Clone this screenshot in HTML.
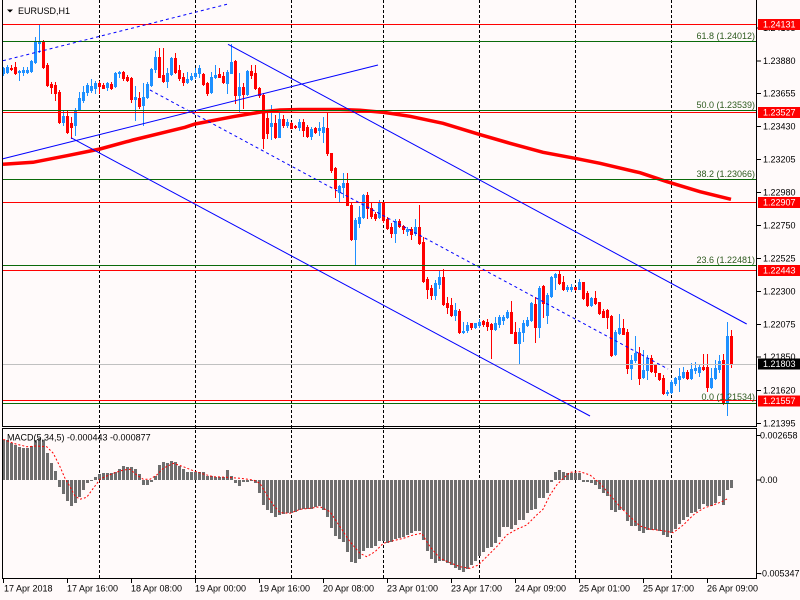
<!DOCTYPE html>
<html><head><meta charset="utf-8">
<style>
html,body{margin:0;padding:0;background:#fffafa;}
svg{display:block;font-family:"Liberation Sans",sans-serif;}
text{font-size:9px;}
</style></head>
<body>
<svg id="s" width="800" height="600" viewBox="0 0 800 600" xmlns="http://www.w3.org/2000/svg">
<rect x="0" y="0" width="800" height="600" fill="#fffafa"/>
<!-- grid vertical dashed -->
<g stroke="#000" stroke-width="1" stroke-dasharray="3,2" shape-rendering="crispEdges">
<line x1="99.5" y1="0" x2="99.5" y2="578"/>
<line x1="195.5" y1="0" x2="195.5" y2="578"/>
<line x1="291.5" y1="0" x2="291.5" y2="578"/>
<line x1="383.5" y1="0" x2="383.5" y2="578"/>
<line x1="479.5" y1="0" x2="479.5" y2="578"/>
<line x1="575.5" y1="0" x2="575.5" y2="578"/>
<line x1="671.5" y1="0" x2="671.5" y2="578"/>
</g>
<g id="candles" shape-rendering="crispEdges"></g>
<g id="hist" shape-rendering="crispEdges"></g>
<polyline fill="none" stroke="#ff0000" stroke-width="1" stroke-dasharray="2,2" points="3.3,439.3 13.3,443.3 26.7,446.7 36.7,446 46.7,446.7 53.3,453.3 60,466.7 65,478.3 70,486.7 75,496 80,499.3 86.7,497.3 93.3,488.3 100,479.3 106.7,476 115,472.7 123.3,470 130,469.3 136.7,475 143.3,479.3 150,479.3 156.7,475 163.3,468.3 173.3,463.3 183.3,466.7 193.3,470.7 203.3,474 213.3,476.7 226.7,477.3 240,478.3 253.3,480 260,483.3 266.7,495 273.3,505 280,512.7 290,513.3 300,509.3 310,508.3 320,506.7 330,511.7 340,526.7 350,541.7 360,553.3 366.7,556.7 375,551.7 383.3,543.3 393.3,540.7 403.3,538.3 413.3,535 421.7,533.3 430,546.7 440,558.3 450,562.7 460,566.7 470,568.3 478.3,565 486.7,556.7 496.7,546.7 506.7,535 516.7,529.3 526.7,525 536.7,515 543,509.3 550,495 556.7,485 563.3,478.3 570,472.3 580,471.7 590,475 600,483.3 610,495 620,506.7 630,516.7 640,526 650,529.3 663.3,530.7 673.3,532.7 683.3,525 693.3,515 703.3,508.3 713.3,505 721.7,501.7 728.3,498.3"/>
<!-- moving average -->
<polyline fill="none" stroke="#ff0000" stroke-width="3.5" points="3,164.3 33,162.3 67,155.7 100,149 133,140 167,131.7 185,127.3 195,124 233,116.7 263,111.7 280,110 300,109.5 340,109.5 360,110.3 383,112.3 410,116.3 443,123.3 479,134.3 510,143.3 543,152.3 575,158.3 600,163.3 610,165.7 640,172.7 667,181.7 700,191.7 731,199.3"/>
<!-- horizontal levels -->
<g stroke-width="1" shape-rendering="crispEdges">
<line x1="2" y1="24.5" x2="756" y2="24.5" stroke="#ff0000"/>
<line x1="2" y1="41.5" x2="756" y2="41.5" stroke="#0a6a0a"/>
<line x1="2" y1="110.5" x2="756" y2="110.5" stroke="#0a6a0a"/>
<line x1="2" y1="112.5" x2="756" y2="112.5" stroke="#ff0000"/>
<line x1="2" y1="179.5" x2="756" y2="179.5" stroke="#0a6a0a"/>
<line x1="2" y1="202.5" x2="756" y2="202.5" stroke="#ff0000"/>
<line x1="2" y1="265.5" x2="756" y2="265.5" stroke="#0a6a0a"/>
<line x1="2" y1="270.5" x2="756" y2="270.5" stroke="#ff0000"/>
<line x1="2" y1="364.5" x2="756" y2="364.5" stroke="#c0c0c0"/>
<line x1="2" y1="400.5" x2="756" y2="400.5" stroke="#ff0000"/>
<line x1="2" y1="403.5" x2="756" y2="403.5" stroke="#0a6a0a"/>
</g>
<!-- trend lines -->
<g stroke="#0000ff" stroke-width="1" fill="none">
<line x1="2" y1="159" x2="378" y2="65"/>
<line x1="71" y1="137.7" x2="590" y2="416"/>
<line x1="228" y1="44.3" x2="746.7" y2="324"/>
<line x1="150" y1="90" x2="668" y2="369" stroke-dasharray="3,3"/>
<line x1="3" y1="60.7" x2="228" y2="4" stroke-dasharray="3,3"/>
</g>
<!-- fib labels -->
<g fill="#2d5a1e" text-anchor="end">
<text x="755" y="39">61.8 (1.24012)</text>
<text x="755" y="108">50.0 (1.23539)</text>
<text x="755" y="177">38.2 (1.23066)</text>
<text x="755" y="263">23.6 (1.22481)</text>
<text x="755" y="400">0.0 (1.21534)</text>
</g>
<!-- borders -->
<g stroke="#000" stroke-width="1" fill="none" shape-rendering="crispEdges">
<line x1="2.5" y1="0" x2="2.5" y2="427"/>
<line x1="756.5" y1="0" x2="756.5" y2="427"/>
<line x1="2" y1="426.5" x2="757" y2="426.5"/>
<rect x="2.5" y="428.5" width="754" height="150"/>
</g>
<!-- right price axis ticks -->
<g stroke="#000" stroke-width="1" shape-rendering="crispEdges">
<line x1="757" y1="28" x2="761" y2="28"/>
<line x1="757" y1="61" x2="761" y2="61"/>
<line x1="757" y1="93.5" x2="761" y2="93.5"/>
<line x1="757" y1="126.5" x2="761" y2="126.5"/>
<line x1="757" y1="159.5" x2="761" y2="159.5"/>
<line x1="757" y1="192.5" x2="761" y2="192.5"/>
<line x1="757" y1="225.5" x2="761" y2="225.5"/>
<line x1="757" y1="258.5" x2="761" y2="258.5"/>
<line x1="757" y1="291.5" x2="761" y2="291.5"/>
<line x1="757" y1="324.5" x2="761" y2="324.5"/>
<line x1="757" y1="357" x2="761" y2="357"/>
<line x1="757" y1="390.5" x2="761" y2="390.5"/>
<line x1="757" y1="423.5" x2="761" y2="423.5"/>
<line x1="757" y1="435.5" x2="761" y2="435.5"/>
<line x1="757" y1="480" x2="761" y2="480"/>
<line x1="757" y1="573.5" x2="761" y2="573.5"/>
</g>
<g fill="#000">
<text x="763" y="31">1.24105</text>
<text x="763" y="64.2">1.23880</text>
<text x="763" y="96.7">1.23655</text>
<text x="763" y="129.7">1.23430</text>
<text x="763" y="162.7">1.23205</text>
<text x="763" y="195.7">1.22980</text>
<text x="763" y="228.7">1.22750</text>
<text x="763" y="261.7">1.22525</text>
<text x="763" y="294.7">1.22300</text>
<text x="763" y="327.7">1.22075</text>
<text x="763" y="360.2">1.21850</text>
<text x="763" y="393.7">1.21620</text>
<text x="763" y="426.7">1.21395</text>
<text x="760" y="438.7">0.002658</text>
<text x="760" y="483.2">0.00</text>
<text x="759" y="576.7">-0.005347</text>
</g>
<!-- price boxes -->
<g>
<rect x="758" y="19" width="42" height="11" fill="#ff0000"/>
<text x="763" y="27.7" fill="#fff">1.24131</text>
<rect x="758" y="107" width="42" height="11" fill="#ff0000"/>
<text x="763" y="115.7" fill="#fff">1.23527</text>
<rect x="758" y="197" width="42" height="11" fill="#ff0000"/>
<text x="763" y="205.7" fill="#fff">1.22907</text>
<rect x="758" y="265" width="42" height="11" fill="#ff0000"/>
<text x="763" y="273.7" fill="#fff">1.22443</text>
<rect x="758" y="358.5" width="42" height="11" fill="#000"/>
<text x="763" y="367.2" fill="#fff">1.21803</text>
<rect x="758" y="395.5" width="42" height="11" fill="#ff0000"/>
<text x="763" y="404.2" fill="#fff">1.21557</text>
</g>
<!-- time axis -->
<g stroke="#000" stroke-width="1" shape-rendering="crispEdges">
<line x1="3.5" y1="579" x2="3.5" y2="583"/>
<line x1="67.5" y1="579" x2="67.5" y2="583"/>
<line x1="131.5" y1="579" x2="131.5" y2="583"/>
<line x1="195.5" y1="579" x2="195.5" y2="583"/>
<line x1="259.5" y1="579" x2="259.5" y2="583"/>
<line x1="323.5" y1="579" x2="323.5" y2="583"/>
<line x1="387.5" y1="579" x2="387.5" y2="583"/>
<line x1="451.5" y1="579" x2="451.5" y2="583"/>
<line x1="515.5" y1="579" x2="515.5" y2="583"/>
<line x1="579.5" y1="579" x2="579.5" y2="583"/>
<line x1="643.5" y1="579" x2="643.5" y2="583"/>
<line x1="707.5" y1="579" x2="707.5" y2="583"/>
</g>
<g fill="#000">
<text x="4" y="591.5">17 Apr 2018</text>
<text x="67" y="591.5">17 Apr 16:00</text>
<text x="131" y="591.5">18 Apr 08:00</text>
<text x="195" y="591.5">19 Apr 00:00</text>
<text x="259" y="591.5">19 Apr 16:00</text>
<text x="323" y="591.5">20 Apr 08:00</text>
<text x="387" y="591.5">23 Apr 01:00</text>
<text x="451" y="591.5">23 Apr 17:00</text>
<text x="515" y="591.5">24 Apr 09:00</text>
<text x="579" y="591.5">25 Apr 01:00</text>
<text x="643" y="591.5">25 Apr 17:00</text>
<text x="707" y="591.5">26 Apr 09:00</text>
</g>
<!-- titles -->
<polygon points="7,9.5 13,9.5 10,12.5" fill="#000"/>
<text x="18" y="14" fill="#000">EURUSD,H1</text>
<text x="7" y="440.5" fill="#000">MACD(5,34,5) -0.000443 -0.000877</text>
</svg>
<script>
(function(){
var NS="http://www.w3.org/2000/svg";
var D=[[73.3,66.7,75,68.3],[71.7,65,73.3,67.3],[67.7,65,70,69.3],[67.3,61.7,74,73.3],[72,70,80,71],[71.7,67.3,75,70],[71.7,67.3,72.7,70],[71,60,71.7,61],[61.7,36.7,63.3,41.7],[42.7,24,51.7,41],
[40.7,40,68.3,67.3],[65,63.3,86,85],[84,81.7,93.3,86.7],[85,81.7,100,93.3],[91.7,90,123.3,121.7],[121.7,110,125,116],[116,110,133.3,131.7],[123.3,117.3,138.3,126.7],[125,108.3,135,110],[110,91.7,110,98.3],
[100,86,101.7,91.7],[91.7,82.7,95,85],[90,79.3,91.7,86],[88.3,80.7,92.7,82.7],[82.7,80.7,92.7,86],[85,82.7,88.3,88.3],[87.3,81.7,90,83.3],[84,81.7,89.3,88.3],[86,71.7,87.3,73.3],[73.3,70.7,76.7,71.7],
[71.7,70.7,80,78.3],[76.7,75,80.7,80],[78.3,76.7,101.7,99.3],[99.3,86,120,96.7],[98,92,108,106],[105,83.3,125,97.3],[97.3,81.7,98.3,84],[85,68.3,86,69.3],[69.3,50.7,71.7,56.7],[56.7,48.3,76.7,76.7],
[75,48.3,81.7,80.7],[80.7,68.3,86.7,73.3],[74,56.7,75,57.7],[58.3,53.3,73.3,71.7],[70,65,80,78.3],[76.7,73.3,85,81.7],[81.7,71.7,83.3,79.3],[79.3,73.3,80,76],[76,68.3,78.3,73.3],[73.3,65,76.7,68.3],
[74.3,73.3,85,84.3],[82.7,81.7,95,92.7],[91.7,71.7,92.7,76.7],[77.3,65,78.3,75],[74.3,68.3,77.3,76.7],[76,71.7,82.7,81.7],[82.7,70,92.7,71.7],[72.7,44,73.3,61.7],[60.7,60,102.7,95],[95,73.3,110.7,86.7],
[87.3,83.3,108.3,94],[94,70,95,71],[71,65,78.3,75],[73.3,65,89.3,88.3],[88.3,86.7,96.7,95],[95,93.3,148.3,138.3],[118.3,111.7,138.3,133.3],[126,105,139.3,122.7],[122.7,115,138.3,136.7],[136.7,111.7,137.3,119.3],
[119.3,115,126.7,125],[125,119.3,127.3,121.7],[123.3,121.7,128.3,128.3],[126,125,128.3,127.3],[127.3,119.3,130,121.7],[121.7,119.3,136,130],[127.3,125,137.3,136],[136,127.3,139.3,129.3],[128.3,127.3,133.3,131.7],[130,121.7,135,128.3],
[131.7,117.3,141.7,127.3],[128.3,112.7,155,153.3],[153.3,152.7,171.7,170],[168.3,166.7,197.3,188.3],[191.7,185,200.7,186],[187.3,172.7,196.7,183.3],[183.3,172.7,205,205],[205,203.3,240,239.3],[239.3,218.3,264,220],[222.7,206,226.7,216.7],
[216.7,194,218.3,195],[195,191.7,218.3,208.3],[208.3,203.3,218.3,216],[214,211.7,220,218.3],[216.7,200,218.3,201.7],[203.3,201.7,221.7,220],[219.3,216.7,229.3,228.3],[227.3,223.3,236.7,233.3],[233.3,219.3,241.7,220.7],[220.7,219.3,227.3,226],
[226,225,233.3,229.3],[230.7,226.7,235,229.3],[229.3,226.7,239.3,234],[233.3,219.3,235,226.7],[226.7,205,244,243.3],[241.7,236.7,281.7,280.7],[279.3,277.3,298.3,289.3],[288.3,285,299.3,295],[295,280,299.3,282.7],[284.3,270,288.3,276.7],
[277.3,269.3,305,304],[303.3,296.7,312.7,306.7],[305,298.3,316,315],[315,303.3,320,310],[310.7,309.3,332.7,331.7],[331.7,321.7,332.7,330.7],[330,321.7,331.7,325],[323.3,322.7,329.3,326.7],[326.7,322.7,328.3,323.3],[325,319.3,326.7,321.7],
[320.7,320,326,324],[321.7,319.3,330,326],[324,322.7,358.3,329.3],[329.3,316.7,330,323.3],[324,315,326.7,316.7],[320,315,324,316.7],[317.3,310,318.3,311.7],[311.7,300.7,333.3,332.7],[331.7,321.7,343.3,342.7],[342.7,328.3,362.7,331.7],
[331.7,320,340.7,322.7],[325,316.7,326,320],[320,301.7,320.7,303.3],[304,296.7,341.7,326.7],[326.7,286,336.7,288.3],[286,285,316.7,303.3],[315,293.3,322.7,295],[296,276,296.7,277.3],[277.3,272.7,289.3,274],[274,270,284,282.7],
[281.7,276,290,289.3],[288.7,285,290.7,287.3],[288.7,284,290.7,287.3],[287.3,286.7,290,289.3],[289.3,279.3,289.3,281.7],[281.7,281.7,299.3,298.3],[293.3,290.7,306,305],[305,296.7,306,298.3],[298.3,290.7,304,303.3],[301.7,301.7,314,312.7],
[310.7,309.3,317.3,316.7],[310,309.3,328.3,316.7],[316,315,356,355],[354,330,355,331.7],[332.7,314,334,328.3],[328.3,319.3,334,334],[331.7,329.3,372.7,368.3],[368.3,355,379.3,360],[360,336,361.7,352.7],[352.7,347.3,384,378.3],
[376.7,350,378.3,370],[370,355,379.3,358.3],[358.3,355,371.7,370.7],[365,364,376,371.7],[373.3,372.7,380,379.3],[378.3,375,394,393.3],[393.3,390,395,391.7],[391.7,380,393.3,381.7],[383.3,376.7,385,378.3],[379.3,368.3,390.7,376],
[377.3,367.3,378.3,371.7],[371.7,370,379.3,378.3],[378.3,363.3,379.3,369.3],[370,361.7,373.3,368.3],[371.7,365,376,367.3],[366.7,354,370,369.3],[367.3,354,390.7,387.3],[386.7,368.3,388.3,378.3],[378.3,360,379.3,368.3],[369.3,355,371.7,360.7],
[360,354,404,401.7],[401.7,321.7,415,336],[336,330,367.3,364]];
var g=document.getElementById('candles');
for(var i=0;i<D.length;i++){
 var o=D[i][0],h=D[i][1],l=D[i][2],c=D[i][3];
 var col=(c<=o)?'#1e90ff':'#ff0000';
 var x=4*i+3;
 var w=document.createElementNS(NS,'rect');
 var hy=Math.round(h),ly=Math.round(l);
 w.setAttribute('x',x);w.setAttribute('y',hy);w.setAttribute('width',1);w.setAttribute('height',Math.max(1,ly-hy+1));w.setAttribute('fill',col);
 g.appendChild(w);
 var t=Math.round(Math.min(o,c)),b=Math.round(Math.max(o,c));
 var r=document.createElementNS(NS,'rect');
 r.setAttribute('x',x-1);r.setAttribute('y',t);r.setAttribute('width',3);r.setAttribute('height',Math.max(1,b-t+1));r.setAttribute('fill',col);
 g.appendChild(r);
}
var P=[[3.5,440],[7.5,440],[11.5,442.7],[15.5,445],[19.5,446.7],[23.5,448.3],[27.5,448.3],[31.5,446],[35.5,440],[39.5,438.3],[43.5,440],[47.5,453.3],[51.5,462.7],[55.5,470.7],[59.5,486.7],[63.5,494],[67.5,501],[71.5,506],[75.5,502.7],[79.5,496.7],[83.5,490],[87.5,483.3],[91.5,481],[95.5,476.7],[99.5,474],[103.5,473.3],[111.5,473.3],[115.5,471.7],[119.5,469.3],[123.5,465.7],[127.5,466.7],[131.5,466.7],[135.5,469.3],[139.5,474.3],[143.5,485],[147.5,485],[151.5,481.7],[155.5,476],[159.5,465],[163.5,462.3],[167.5,463.3],[171.5,461],[175.5,462.3],[179.5,465.7],[183.5,469.3],[187.5,471.7],[191.5,471.7],[195.5,472.3],[203.5,472.3],[207.5,475.7],[219.5,477],[223.5,477],[227.5,470],[231.5,476],[235.5,483],[239.5,485.7],[243.5,482],[251.5,481],[257.5,484],
[261.7,503.3],[266.7,509.3],[271,512.7],[275,517.7],[279,515],[283.3,514],[287.3,513.3],[291.7,512.7],[295.7,511.7],[300,509.3],[304,509.3],[308.3,509.3],[312.3,508.3],[316.7,506],[320.7,506],[325,511.7],[329,520.7],[333.3,532.7],[337.3,538.3],[341.7,539.3],[346,546.7],[350,561.7],[354.3,563.3],[358.3,562.7],[362.3,551.7],[366.7,548.3],[370.7,547.7],[375,546.7],[379,540.7],[383.3,540.7],[387.3,543.3],[391.7,541.7],[395.7,539.3],[400,538.3],[404,537.3],[408.3,535],[412.3,532.7],[416.7,530],[420.7,531.7],[425,545],[429,555],[433.3,562.7],[437.3,562.7],[441.7,560],[445.7,562.7],[450,564.3],[454,566.7],[458.3,569.3],[462.3,572.7],[466.7,570],[470.7,566],[475,561.7],[479,556],[483.3,551.7],[487.3,548.3],[491.7,546.7],[495.7,542.7],[500,536],[504,526],[508.3,526.7],[512.3,529.3],[516.7,522.7],[520.7,519.3],[525,520],[529,509.3],
[531.7,510],[535.7,509.3],[540,496.7],[544,498.3],[548.3,491.7],[551.7,481],[555.7,471.7],[559.7,470],[563.7,471.7],[567.7,472.7],[571.7,472.7],[575.7,472.7],[580,473.3],[583.3,481.7],[587.3,481.7],[591.7,483.3],[595.7,485],[599.7,489],[603.7,492.7],[607.7,496],[611.7,510.7],[615.7,511.7],[619.7,510],[623.7,510],[627.7,521.7],[631.7,526],[635.7,526],[639.7,531.7],[643.7,532.7],[647.7,530],[651.7,530],[655.7,530],[659.7,530.7],[663.7,535],[667.7,536.7],[671.7,532.7],[675.7,529.3],[679.7,524],[683.7,519.3],[687.7,516.7],[691.7,513.3],[695.7,511.7],[699.7,509.3],[703.7,503.3],[707.7,506],[711.7,506],[715.7,503.3],[719.7,496],[723.7,506],[727.7,489.3],[731.7,488.3]];
function interp(x){
 if(x<=P[0][0])return P[0][1];
 for(var k=1;k<P.length;k++){if(x<=P[k][0]){var a=P[k-1],b=P[k];return a[1]+(b[1]-a[1])*(x-a[0])/(b[0]-a[0]);}}
 return P[P.length-1][1];
}
var hg=document.getElementById('hist');
var Z=480;
for(var j=0;j<183;j++){
 var xc=3.5+4*j;var y=Math.round(interp(xc));
 var rr=document.createElementNS(NS,'rect');
 var top=Math.min(y,Z),ht=Math.abs(y-Z);
 if(ht<1)ht=1;
 rr.setAttribute('x',4*j+2);rr.setAttribute('y',top);rr.setAttribute('width',3);rr.setAttribute('height',ht);rr.setAttribute('fill','#6e6e6e');
 hg.appendChild(rr);
}
})();
</script>
</body></html>
